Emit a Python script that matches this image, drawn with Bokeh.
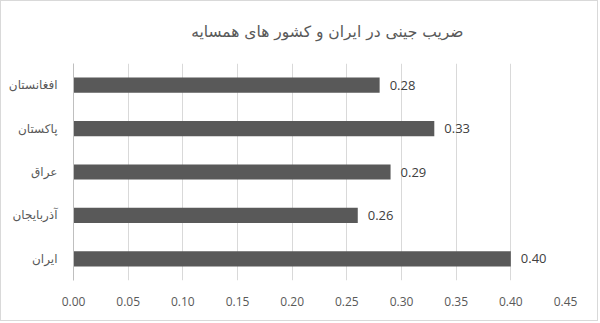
from bokeh.plotting import figure
from bokeh.models import ColumnDataSource, FixedTicker, NumeralTickFormatter, Range1d, FactorRange, Title
from bokeh.core.properties import value
from bokeh.embed import file_html
from bokeh.resources import INLINE

# Gini coefficient, listed top to bottom as shown
countries = ["افغانستان", "پاکستان", "عراق", "آذربایجان", "ایران"]
gini = [0.28, 0.33, 0.29, 0.26, 0.40]
x_ticks = [0.0, 0.05, 0.10, 0.15, 0.20, 0.25, 0.30, 0.35, 0.40, 0.45]

labels = [f"{v:.2f}" for v in gini]
src = ColumnDataSource(dict(country=countries, gini=gini, label=labels))

FONT = "DejaVu Sans"

p = figure(
    width=598, height=321,
    y_range=FactorRange(*reversed(countries)),
    x_range=Range1d(0, 0.45),
    output_backend="svg", toolbar_location=None,
    min_border_left=72, min_border_right=34, min_border_top=62, min_border_bottom=42,
    outline_line_color=None,
)
p.styles = {"border": "1px solid #d9d9d9"}

# blank spacer row between the title and the plot frame
p.add_layout(Title(text=" ", text_font_size="6px"), "above")
p.add_layout(Title(text="ضریب جینی در ایران و کشور های همسایه", align="right",
                   text_font=FONT, text_font_size="15.5px", text_font_style="normal",
                   text_color="#595959", offset=102), "above")

p.hbar(y="country", right="gini", left=0, height=0.35, source=src,
       fill_color="#595959", line_color=None)
p.text(x="gini", y="country", text="label", source=src, x_offset=10,
       text_baseline="middle", text_align="left",
       text_font=value("Open Sans"), text_font_size="13px", text_color="#404040")

p.xaxis.ticker = FixedTicker(ticks=x_ticks)
p.xaxis.formatter = NumeralTickFormatter(format="0.00")
p.xaxis.axis_line_color = None
p.xaxis.major_tick_line_color = None
p.xaxis.minor_tick_line_color = None
p.xaxis.major_label_text_font = "Open Sans"
p.xaxis.major_label_text_font_size = "12px"
p.xaxis.major_label_text_color = "#595959"
p.xaxis.major_label_standoff = 10

p.yaxis.axis_line_color = "#bfbfbf"
p.yaxis.major_tick_line_color = None
p.yaxis.minor_tick_line_color = None
p.yaxis.major_label_text_font = FONT
p.yaxis.major_label_text_font_size = "12px"
p.yaxis.major_label_text_color = "#595959"
p.yaxis.major_label_standoff = 10

p.xgrid.grid_line_color = "#d9d9d9"
p.ygrid.grid_line_color = None

open("out.html", "w").write(file_html(p, INLINE))
